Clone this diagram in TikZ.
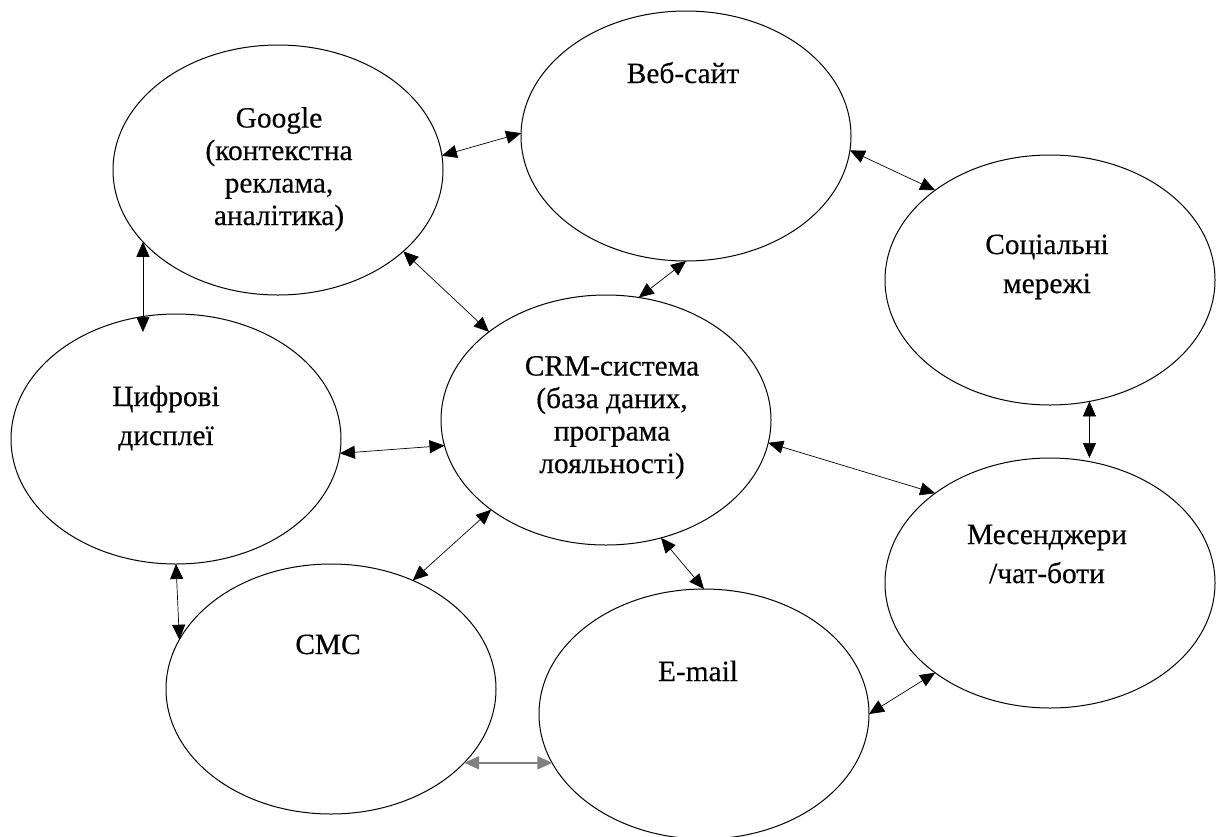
\documentclass[tikz,border=0pt]{standalone}
\usepackage{fontspec}
\setmainfont[FakeBold=0.35]{Liberation Serif}
\usetikzlibrary{arrows.meta,shapes.geometric}

\begin{document}
\begin{tikzpicture}[x=0.5pt,y=-0.5pt,
  oval/.style={draw, ellipse, line width=0.5pt, minimum width=165pt,
    minimum height=125pt, inner sep=0pt, outer sep=0pt},
  lbl/.style={align=center, inner sep=0pt, anchor=base,
    font=\fontsize{14.7pt}{16.25pt}\selectfont},
  lbltwo/.style={lbl, font=\fontsize{14.7pt}{19.5pt}\selectfont},
  link/.style={{Triangle[length=7.5pt,width=6.5pt]}-{Triangle[length=7.5pt,width=6.5pt]},
    line width=0.35pt},
]
% page area
\fill[white] (0,0) rectangle (1221,836);
\useasboundingbox (0,0) rectangle (1221,836);

% channels
\node[oval] (g) at (278,170) {};
\node[oval] (w) at (686,136) {};
\node[oval] (s) at (1050,280) {};
\node[oval] (c) at (606,420) {};
\node[oval] (d) at (176,439) {};
\node[oval] (m) at (1050,583) {};
\node[oval] (t) at (331,689) {};
\node[oval] (e) at (704,714) {};

% labels (base = baseline of the last line)
\node[lbl] (gt) at (279,225) {Google\\(контекстна\\реклама,\\аналітика)};
\node[lbl] (wt) at (683,83) {Веб-сайт};
\node[lbltwo] (st) at (1047,293) {Соціальні\\мережі};
\node[lbl] (ct) at (612,473) {CRM-система\\(база даних,\\програма\\лояльності)};
\node[lbltwo] (dt) at (166,445) {Цифрові\\дисплеї};
\node[lbltwo] (mt) at (1047,583) {Месенджери\\/чат-боти};
\node[lbl] (tt) at (328,654) {СМС};
\node[lbl] (et) at (698,681) {E-mail};

% two-way links
\draw[link] (g.5.9) -- (w.179.6);
\draw[link] (w.-5.9) -- (s.142.6);
\draw[link] (w.-90) -- (c.75.2);
\draw[link] (g.-33.3) -- (c.143);
\draw[link, shorten >=-9pt] (g.-152) -- (g.-152 |- d.north);
\draw[link] (s.-72.9) -- (s.-72.9 |- m.north);
\draw[link] (c.-8.3) -- (m.142.3);
\draw[link] (d.-5.9) -- (c.-171);
\draw[link] (c.-142.3) -- (t.53.2);
\draw[link] (c.-65.9) -- (e.north);
\draw[link] (d.south) -- (t.162.2);
\draw[link, draw=gray, line width=0.9pt] (t.-29.7) -- (t.-29.7 -| e.-162.7);
\draw[link] (e.east) -- (m.-142.4);
\end{tikzpicture}
\end{document}
